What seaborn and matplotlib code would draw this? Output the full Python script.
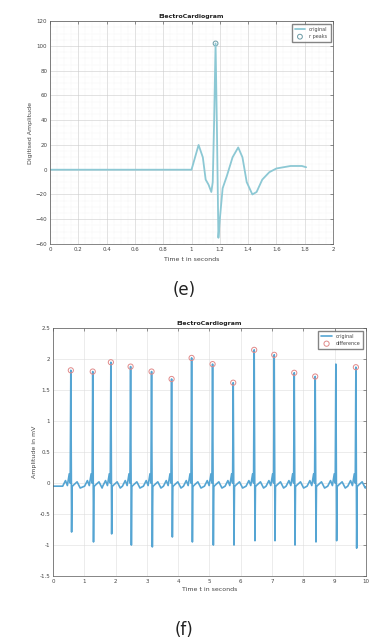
import numpy as np
import pandas as pd
import seaborn as sns
import matplotlib.pyplot as plt
from matplotlib.ticker import MultipleLocator

# ---- panel (e): single digitised beat ----
e_time = [0.0, 1.0, 1.02, 1.05, 1.08, 1.10, 1.12, 1.14, 1.15, 1.16, 1.17, 1.18, 1.19,
          1.20, 1.22, 1.25, 1.29, 1.33, 1.36, 1.39, 1.43, 1.46, 1.50, 1.55, 1.60,
          1.70, 1.78, 1.81]
e_amp = [0, 0, 8, 20, 10, -8, -12, -18, -10, 40, 102, 30, -55,
         -40, -15, -5, 10, 18, 10, -10, -20, -18, -8, -2, 1,
         3, 3, 2]
e_peak_t = [1.17]
e_peak_a = [102]

# ---- panel (f): 10 s recording, values read per beat ----
r_times = [0.57, 1.27, 1.85, 2.48, 3.15, 3.79, 4.43, 5.10, 5.76, 6.43, 7.07, 7.71, 8.38, 9.04, 9.68]
r_amps = [1.82, 1.80, 1.95, 1.88, 1.80, 1.68, 2.02, 1.92, 1.62, 2.15, 2.07, 1.78, 1.72, 1.92, 1.87]
s_amps = [-0.79, -0.95, -0.82, -1.00, -1.03, -0.87, -0.95, -1.00, -1.00, -0.93, -0.93, -1.00, -0.95, -0.93, -1.05]
# small waves around each R (offset in s, amplitude in mV)
wave_offsets = [-0.26, -0.17, -0.11, -0.05, -0.02, 0.04, 0.07, 0.20, 0.30]
wave_amps = [-0.05, 0.04, -0.04, 0.15, 0.0, -0.06, -0.04, 0.02, -0.08]
peak_marks = [True] * 13 + [False, True]

t_list, a_list = [0.0], [-0.05]
for tr, ra, sa in zip(r_times, r_amps, s_amps):
    pts = [(tr + o, a) for o, a in zip(wave_offsets, wave_amps)]
    pts += [(tr, ra), (tr + 0.025, sa)]
    for p in sorted(pts):
        t_list.append(p[0])
        a_list.append(p[1])
t_list.append(10.0)
a_list.append(-0.06)
df_f = pd.DataFrame({'t': t_list, 'a': a_list})
df_e = pd.DataFrame({'t': e_time, 'a': e_amp})

sns.set_theme(style="white")
plt.rcParams['font.family'] = ['DejaVu Sans']
txt = '#444444'

fig = plt.figure(figsize=(3.69, 6.42), dpi=100)


def style_axes(ax, title, xlabel, ylabel):
    ax.set_title(title, fontsize=4.5, fontweight='bold', color='#222222', pad=2)
    ax.set_xlabel(xlabel, fontsize=4.5, color=txt, labelpad=2)
    ax.set_ylabel(ylabel, fontsize=4.5, color=txt, labelpad=2)
    ax.tick_params(direction='in', labelsize=4, colors=txt, length=2, width=0.4, pad=2,
                   top=True, right=True)
    for s in ax.spines.values():
        s.set_color('#555555')
        s.set_linewidth(0.5)


ax1 = fig.add_axes([0.1355, 0.620, 0.767, 0.347])
sns.lineplot(data=df_e, x='t', y='a', ax=ax1, color='#8cc8d4', linewidth=1.3, label='original')
sns.scatterplot(x=e_peak_t, y=e_peak_a, ax=ax1, s=12, facecolor='none', edgecolor='#6a9aa4',
                linewidth=0.7, label='r peaks')
ax1.set_xlim(0, 2)
ax1.set_ylim(-60, 120)
ax1.xaxis.set_major_locator(MultipleLocator(0.2))
ax1.yaxis.set_major_locator(MultipleLocator(20))
ax1.xaxis.set_minor_locator(MultipleLocator(0.05))
ax1.yaxis.set_minor_locator(MultipleLocator(5))
ax1.grid(True, which='major', color='#cccccc', linewidth=0.4)
ax1.grid(True, which='minor', color='#e4e4e4', linewidth=0.3, linestyle=':')
ax1.set_xticklabels([f'{v:g}' for v in ax1.get_xticks()])
style_axes(ax1, 'ElectroCardiogram', 'Time t in seconds', 'Digitised Amplitude')
ax1.legend(loc='upper right', fontsize=3.5, frameon=True, fancybox=False, edgecolor='#666666',
           handlelength=2.2, borderpad=0.6, labelcolor=txt, markerfirst=True)

ax2 = fig.add_axes([0.1436, 0.1028, 0.848, 0.386])
sns.lineplot(data=df_f, x='t', y='a', ax=ax2, color='#55a5d3', linewidth=1.2, label='original')
mark_t = [t for t, m in zip(r_times, peak_marks) if m]
mark_a = [a for a, m in zip(r_amps, peak_marks) if m]
sns.scatterplot(x=mark_t, y=mark_a, ax=ax2, s=14, facecolor='none', edgecolor='#e08a8a',
                linewidth=0.7, label='difference', zorder=3)
ax2.set_xlim(0, 10)
ax2.set_ylim(-1.5, 2.5)
ax2.xaxis.set_major_locator(MultipleLocator(1))
ax2.yaxis.set_major_locator(MultipleLocator(0.5))
ax2.grid(True, which='major', color='#dddddd', linewidth=0.4)
ax2.set_yticklabels([f'{v:g}' for v in ax2.get_yticks()])
style_axes(ax2, 'ElectroCardiogram', 'Time t in seconds', 'Amplitude in mV')
ax2.legend(loc='upper right', fontsize=3.5, frameon=True, fancybox=False, edgecolor='#666666',
           handlelength=2.2, borderpad=0.6, labelcolor=txt)

fig.text(0.5, 1 - 290 / 642, '(e)', ha='center', va='center', fontsize=12, color='#222222')
fig.text(0.5, 1 - 630 / 642, '(f)', ha='center', va='center', fontsize=12, color='#222222')

fig.savefig('out.png', dpi=100)
